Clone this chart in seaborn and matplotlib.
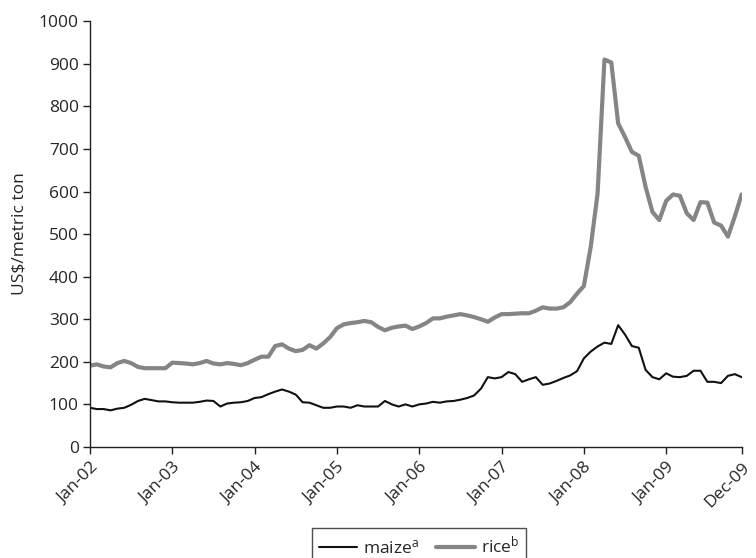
import matplotlib
matplotlib.use("Agg")
import matplotlib.pyplot as plt
import seaborn as sns
import pandas as pd
import numpy as np

# ---- data (US$/metric ton, monthly Jan-2002 .. Dec-2009) ----
months = pd.date_range("2002-01-01", "2009-12-01", freq="MS")

maize = [
    92, 89, 89, 86, 90, 92, 99, 108, 113, 110, 107, 107,        # 2002
    105, 104, 104, 104, 106, 109, 108, 95, 102, 104, 105, 108,  # 2003
    115, 117, 124, 130, 135, 130, 123, 105, 104, 98, 92, 92,    # 2004
    95, 95, 92, 98, 95, 95, 95, 108, 100, 95, 100, 95,          # 2005
    100, 102, 106, 104, 107, 108, 111, 115, 121, 137, 164, 161, # 2006
    164, 176, 171, 153, 159, 164, 146, 149, 155, 162, 168, 178, # 2007
    208, 224, 236, 245, 242, 286, 264, 237, 233, 181, 164, 159, # 2008
    173, 165, 164, 167, 179, 179, 153, 153, 150, 167, 171, 164, # 2009
]

rice = [
    191, 194, 189, 187, 197, 202, 197, 188, 185, 185, 185, 185, # 2002
    198, 197, 196, 194, 197, 202, 196, 194, 197, 195, 192, 197, # 2003
    205, 212, 212, 237, 241, 231, 225, 228, 239, 231, 243, 258, # 2004
    279, 288, 291, 293, 296, 293, 282, 274, 280, 283, 285, 277, # 2005
    283, 291, 302, 302, 306, 309, 312, 309, 305, 300, 294, 304, # 2006
    312, 312, 313, 314, 314, 320, 328, 325, 325, 328, 340, 360, # 2007
    378, 470, 595, 910, 903, 760, 728, 693, 684, 611, 552, 533, # 2008
    578, 593, 590, 549, 533, 575, 574, 527, 520, 494, 541, 593, # 2009
]

tick_labels = ["Jan-02", "Jan-03", "Jan-04", "Jan-05", "Jan-06",
               "Jan-07", "Jan-08", "Jan-09", "Dec-09"]
series_names = ["maize$^{\\mathregular{a}}$", "rice$^{\\mathregular{b}}$"]

# ---- figure ----
sns.set_style("white")
plt.rcParams["font.family"] = ["Open Sans", "DejaVu Sans"]
plt.rcParams["mathtext.default"] = "regular"

FS = 12.5
fig = plt.figure(figsize=(7.56, 5.58), dpi=100)
ax = fig.add_axes([0.119, 0.199, 0.862, 0.763])

idx = np.arange(len(months))
df = pd.DataFrame({"idx": idx, "maize": maize, "rice": rice})

sns.lineplot(data=df, x="idx", y="maize", ax=ax, color="#111111",
             linewidth=1.5, label=series_names[0])
sns.lineplot(data=df, x="idx", y="rice", ax=ax, color="#858585",
             linewidth=3.0, label=series_names[1])

# ticks: every January plus the last month
tick_pos = [i for i, d in enumerate(months) if d.month == 1] + [len(months) - 1]
ax.set_xticks(tick_pos)
ax.set_xticklabels(tick_labels, rotation=45, ha="right", rotation_mode="anchor",
                   fontsize=FS)
ax.set_xlim(0, len(months) - 1)
ax.set_ylim(0, 1000)
ax.set_yticks(range(0, 1001, 100))
ax.tick_params(axis="y", labelsize=FS, pad=3)
ax.tick_params(axis="both", direction="out", length=5, width=1, color="#222222",
               left=True, bottom=True)
ax.tick_params(axis="x", pad=4)

ax.set_xlabel("")
ax.set_ylabel("US$/metric ton", fontsize=FS, labelpad=8)

for s in ["top", "right"]:
    ax.spines[s].set_visible(False)
for s in ["left", "bottom"]:
    ax.spines[s].set_color("#222222")
    ax.spines[s].set_linewidth(1.0)

leg = ax.legend(loc="upper center", bbox_to_anchor=(419 / 756, 1 - 528 / 558),
                bbox_transform=fig.transFigure, ncol=2, frameon=True,
                fontsize=FS, fancybox=False, handlelength=2.2,
                columnspacing=1.0, handletextpad=0.35, borderpad=0.4,
                borderaxespad=0)
leg.get_frame().set_edgecolor("#222222")
leg.get_frame().set_linewidth(1.0)

fig.savefig("out.png", dpi=100)
